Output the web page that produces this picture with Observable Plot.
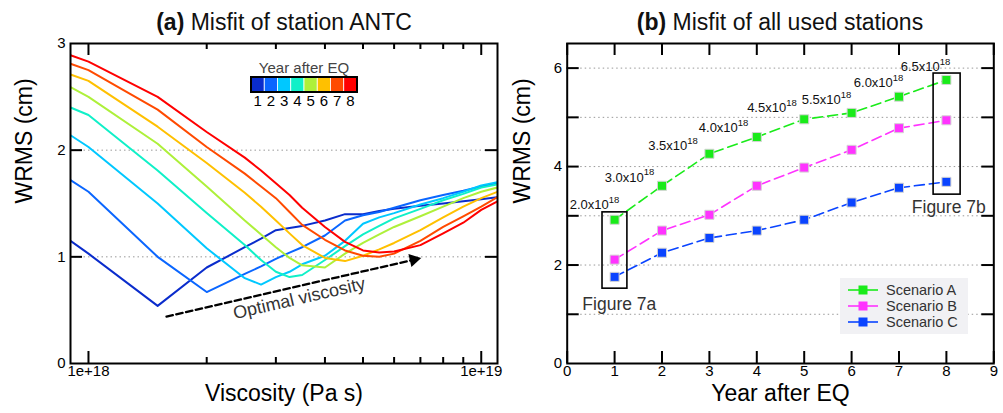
<!DOCTYPE html>
<html><head><meta charset="utf-8">
<script src="https://cdn.jsdelivr.net/npm/d3@7"></script>
<script src="https://cdn.jsdelivr.net/npm/@observablehq/plot@0.6"></script>
<style>
body{margin:0;background:#fff;font-family:"Liberation Sans",Arial,Helvetica,sans-serif;}
#wrap{position:relative;width:1003px;height:413px;overflow:hidden;background:#fff;}
.title{position:absolute;top:8px;font-size:23px;line-height:28px;white-space:nowrap;transform:translateX(-50%);color:#111;}
svg{overflow:visible}
</style></head><body><div id="wrap">
<div class="title" style="left:284px"><b>(a)</b> Misfit of station ANTC</div>
<div class="title" style="left:780px"><b>(b)</b> Misfit of all used stations</div>
</div><script>
// ---------- Panel (a) data ----------
const years = [1, 2, 3, 4, 5, 6, 7, 8];
const viscosity = [0.9e18, 1.0e18, 1.5e18, 2.0e18, 2.5e18, 2.75e18, 3.0e18, 3.25e18, 3.5e18, 4.0e18, 4.5e18, 5.0e18, 5.5e18, 6.0e18, 7.0e18, 8.0e18, 9.0e18, 1.0e19, 1.1e19];
const wrmsYear1 = [1.15, 1.03, 0.54, 0.90, 1.09, 1.17, 1.25, 1.27, 1.29, 1.34, 1.40, 1.40, 1.43, 1.45, 1.48, 1.50, 1.52, 1.54, 1.56];
const wrmsYear2 = [1.72, 1.61, 1.00, 0.67, 0.84, 0.91, 0.98, 1.04, 1.09, 1.20, 1.34, 1.39, 1.42, 1.46, 1.53, 1.58, 1.62, 1.66, 1.69];
const wrmsYear3 = [2.14, 2.03, 1.50, 1.08, 0.80, 0.74, 0.81, 0.86, 0.93, 1.01, 1.15, 1.31, 1.37, 1.41, 1.49, 1.55, 1.61, 1.67, 1.70];
const wrmsYear4 = [2.40, 2.33, 1.81, 1.41, 1.11, 0.97, 0.86, 0.81, 0.83, 0.97, 1.10, 1.21, 1.29, 1.36, 1.45, 1.53, 1.59, 1.65, 1.68];
const wrmsYear5 = [2.59, 2.50, 2.06, 1.66, 1.34, 1.21, 1.09, 0.99, 0.92, 0.90, 1.03, 1.13, 1.21, 1.28, 1.38, 1.47, 1.55, 1.61, 1.65];
const wrmsYear6 = [2.71, 2.65, 2.22, 1.88, 1.60, 1.47, 1.34, 1.22, 1.11, 0.99, 0.96, 1.01, 1.07, 1.13, 1.25, 1.37, 1.47, 1.55, 1.61];
const wrmsYear7 = [2.81, 2.75, 2.38, 2.03, 1.78, 1.66, 1.55, 1.42, 1.30, 1.16, 1.06, 1.01, 1.00, 1.03, 1.15, 1.28, 1.38, 1.47, 1.56];
const wrmsYear8 = [2.89, 2.83, 2.50, 2.17, 1.93, 1.81, 1.69, 1.58, 1.46, 1.28, 1.14, 1.06, 1.04, 1.05, 1.11, 1.22, 1.32, 1.44, 1.52];
const yearColors = ["#0a2ccc", "#0a66ff", "#00c8ff", "#10f0c8", "#aef03a", "#ffc000", "#ff4a00", "#ff0000"];
const leftYTicks = [0, 1, 2, 3];
const leftXMajor = [1e18, 1e19];
const leftXMinor = [2e18, 3e18, 4e18, 5e18, 6e18, 7e18, 8e18, 9e18];
const arrowStart = {v: 1.58e18, w: 0.44};
const arrowHead = {v: 6.73e18, w: 0.973};
const arrowLabel = {v: 3.44e18, w: 0.61, text: "Optimal viscosity"};

// ---------- Panel (b) data ----------
const scenarioYears = [1, 2, 3, 4, 5, 6, 7, 8];
const scenarioA = [2.92, 3.61, 4.26, 4.60, 4.96, 5.09, 5.42, 5.76];
const scenarioB = [2.11, 2.70, 3.02, 3.61, 3.98, 4.34, 4.78, 4.94];
const scenarioC = [1.76, 2.25, 2.55, 2.70, 2.92, 3.27, 3.57, 3.69];
const scenarioNames = ["Scenario A", "Scenario B", "Scenario C"];
const scenarioColors = ["#1aeb1a", "#ff33ff", "#0a44ff"];
const optimalViscosity = ["2.0", "3.0", "3.5", "4.0", "4.5", "5.5", "6.0", "6.5"]; // x10^18
const optLabelX = [0.878, 1.616, 2.532, 3.60, 4.62, 5.77, 6.87, 7.86];
const optLabelY = [3.23, 3.78, 4.42, 4.79, 5.19, 5.36, 5.70, 6.02];
const figBoxes = [
  {x1: 0.745, x2: 1.27, y1: 1.52, y2: 3.07, label: "Figure 7a", lx: 1.10, ly: 1.20},
  {x1: 7.73, x2: 8.30, y1: 3.43, y2: 5.89, label: "Figure 7b", lx: 8.05, ly: 3.17}
];
const rightXTicks = [0, 1, 2, 3, 4, 5, 6, 7, 8, 9];
const rightYLabels = [0, 2, 4, 6];
const rightYTicks = [1, 2, 3, 4, 5, 6];

// ---------- build ----------
const FONT = '"Liberation Sans", Arial, Helvetica, sans-serif';
const wrmsByYear = [wrmsYear1, wrmsYear2, wrmsYear3, wrmsYear4, wrmsYear5, wrmsYear6, wrmsYear7, wrmsYear8];
const curves = years.flatMap((yr, i) => viscosity.map((v, j) => ({year: yr, v, w: wrmsByYear[i][j]})));

const L = {width: 500, height: 413, ml: 70, mr: 3, mt: 43, mb: 50};
const LH = L.height - L.mt - L.mb, LW = L.width - L.ml - L.mr;
const tickCol = {stroke: "#000", strokeWidth: 2};
const xLab = {frameAnchor: "bottom", dy: 12, fontSize: 15, fill: "#000"};
const yLab = {frameAnchor: "left", dx: -5, textAnchor: "end", fontSize: 15, fill: "#000"};

const left = Plot.plot({
  width: L.width, height: L.height,
  marginLeft: L.ml, marginRight: L.mr, marginTop: L.mt, marginBottom: L.mb,
  style: {fontFamily: FONT, fontSize: "15px", background: "transparent", overflow: "visible", color: "#000"},
  x: {type: "log", domain: [0.9e18, 1.1e19], axis: null},
  y: {domain: [0, 3], axis: null},
  color: {domain: years, range: yearColors},
  marks: [
    Plot.ruleY([1, 2], {stroke: "#999", strokeWidth: 1, strokeDasharray: "1.5,3"}),
    Plot.line(curves, {x: "v", y: "w", z: "year", stroke: "year", strokeWidth: 2, clip: true}),
    Plot.line([arrowStart, arrowHead], {x: "v", y: "w", stroke: "#000", strokeWidth: 2.3, strokeDasharray: "6.5,3.5"}),
    Plot.dot([arrowHead], {x: "v", y: "w", symbol: "triangle2", r: 6.4, rotate: 77, fill: "#000", stroke: "none"}),
    Plot.text([arrowLabel], {x: "v", y: "w", text: "text", rotate: -13, fontSize: 18, fill: "#333"}),
    Plot.tickX(leftXMajor, {x: d => d, insetTop: LH - 12, ...tickCol}),
    Plot.tickX(leftXMajor, {x: d => d, insetBottom: LH - 12, ...tickCol}),
    Plot.tickX(leftXMinor, {x: d => d, insetTop: LH - 6, ...tickCol}),
    Plot.tickX(leftXMinor, {x: d => d, insetBottom: LH - 6, ...tickCol}),
    Plot.tickY([1, 2], {y: d => d, insetRight: LW - 12, ...tickCol}),
    Plot.tickY([1, 2], {y: d => d, insetLeft: LW - 12, ...tickCol}),
    Plot.frame({stroke: "#000", strokeWidth: 2}),
    Plot.text(leftXMajor, {x: d => d, text: d => d.toExponential(0), ...xLab}),
    Plot.text(leftYTicks, {y: d => d, text: d => String(d), ...yLab}),
    Plot.text(["Viscosity (Pa s)"], {text: d => d, frameAnchor: "bottom", dy: 37, fontSize: 23, fill: "#000"}),
    Plot.text(["WRMS (cm)"], {text: d => d, frameAnchor: "left", dx: -46, rotate: -90, fontSize: 23, fill: "#000"})
  ]
});

const scen = [scenarioA, scenarioB, scenarioC].flatMap((arr, i) =>
  scenarioYears.map((yr, j) => ({s: scenarioNames[i], year: yr, w: arr[j]})));
const optLabels = optimalViscosity.map((t, i) => ({t: t + "x10", x: optLabelX[i], y: optLabelY[i]}));

const R = {width: 503, height: 413, ml: 66.7, mr: 9.7, mt: 43, mb: 50};
const RH = R.height - R.mt - R.mb, RW = R.width - R.ml - R.mr;

const right = Plot.plot({
  width: R.width, height: R.height,
  marginLeft: R.ml, marginRight: R.mr, marginTop: R.mt, marginBottom: R.mb,
  style: {fontFamily: FONT, fontSize: "15px", background: "transparent", overflow: "visible", color: "#000"},
  x: {domain: [0, 9], axis: null},
  y: {domain: [0, 6.5], axis: null},
  color: {domain: scenarioNames, range: scenarioColors},
  marks: [
    Plot.ruleY(rightYTicks, {stroke: "#999", strokeWidth: 1, strokeDasharray: "1.5,3"}),
    Plot.line(scen, {x: "year", y: "w", z: "s", stroke: "s", strokeWidth: 1.6, strokeDasharray: "10,5"}),
    Plot.dot(scen, {x: "year", y: "w", symbol: "square", fill: "s", stroke: "#d4d4d4", strokeWidth: 1, r: 5.1}),
    Plot.rect(figBoxes, {x1: "x1", x2: "x2", y1: "y1", y2: "y2", fill: "none", stroke: "#000", strokeWidth: 1.6}),
    Plot.text(figBoxes, {x: "lx", y: "ly", text: "label", fontSize: 17.5, fill: "#333"}),
    Plot.text(optLabels, {x: "x", y: "y", text: "t", textAnchor: "end", fontSize: 13, fill: "#111"}),
    Plot.text(optLabels, {x: "x", y: "y", text: () => "18", textAnchor: "start", dy: -5, fontSize: 9.5, fill: "#111"}),
    Plot.tickX(rightXTicks, {x: d => d, insetTop: RH - 12, ...tickCol}),
    Plot.tickX(rightXTicks, {x: d => d, insetBottom: RH - 12, ...tickCol}),
    Plot.tickY(rightYTicks, {y: d => d, insetRight: RW - 12, ...tickCol}),
    Plot.tickY(rightYTicks, {y: d => d, insetLeft: RW - 12, ...tickCol}),
    Plot.frame({stroke: "#000", strokeWidth: 2}),
    Plot.text(rightXTicks, {x: d => d, text: d => String(d), ...xLab}),
    Plot.text(rightYLabels, {y: d => d, text: d => String(d), ...yLab}),
    Plot.text(["Year after EQ"], {text: d => d, frameAnchor: "bottom", dy: 37, fontSize: 23, fill: "#000"}),
    Plot.text(["WRMS (cm)"], {text: d => d, frameAnchor: "left", dx: -45, rotate: -90, fontSize: 23, fill: "#000"})
  ]
});

const wrap = document.getElementById("wrap");
left.style.position = "absolute"; left.style.left = "0px"; left.style.top = "0px";
right.style.position = "absolute"; right.style.left = "500px"; right.style.top = "0px";
wrap.appendChild(left);
wrap.appendChild(right);

// ---------- legends ----------
const ov = d3.select(wrap).append("svg")
  .attr("width", 1003).attr("height", 413)
  .style("position", "absolute").style("left", 0).style("top", 0)
  .style("font-family", FONT);

// colour bar legend (panel a)
const cb = {x: 251, y: 77, w: 106, h: 15};
const cw = cb.w / years.length;
ov.append("text").attr("x", cb.x + cb.w / 2).attr("y", 67).attr("text-anchor", "middle")
  .attr("dominant-baseline", "central").attr("font-size", 15).attr("fill", "#444").text("Year after EQ");
ov.selectAll("rect.cell").data(years).join("rect").attr("class", "cell")
  .attr("x", (d, i) => cb.x + i * cw).attr("y", cb.y).attr("width", cw).attr("height", cb.h)
  .attr("fill", (d, i) => yearColors[i]).attr("stroke", "#fff").attr("stroke-width", 0.8);
ov.append("rect").attr("x", cb.x).attr("y", cb.y).attr("width", cb.w).attr("height", cb.h)
  .attr("fill", "none").attr("stroke", "#000").attr("stroke-width", 2);
ov.selectAll("text.num").data(years).join("text").attr("class", "num")
  .attr("x", (d, i) => cb.x + (i + 0.5) * cw).attr("y", 100).attr("text-anchor", "middle")
  .attr("dominant-baseline", "central").attr("font-size", 15).attr("fill", "#000").text(d => d);

// scenario legend (panel b)
ov.append("rect").attr("x", 840).attr("y", 278).attr("width", 128).attr("height", 56).attr("fill", "#f1f1f4");
const lgY = [290, 306, 322];
scenarioNames.forEach((name, i) => {
  ov.append("line").attr("x1", 848).attr("x2", 878).attr("y1", lgY[i]).attr("y2", lgY[i])
    .attr("stroke", scenarioColors[i]).attr("stroke-width", 1.6);
  ov.append("rect").attr("x", 863 - 4.5).attr("y", lgY[i] - 4.5).attr("width", 9).attr("height", 9)
    .attr("fill", scenarioColors[i]);
  ov.append("text").attr("x", 886).attr("y", lgY[i]).attr("dominant-baseline", "central")
    .attr("font-size", 14.5).attr("fill", "#333").text(name);
});
</script></body></html>
